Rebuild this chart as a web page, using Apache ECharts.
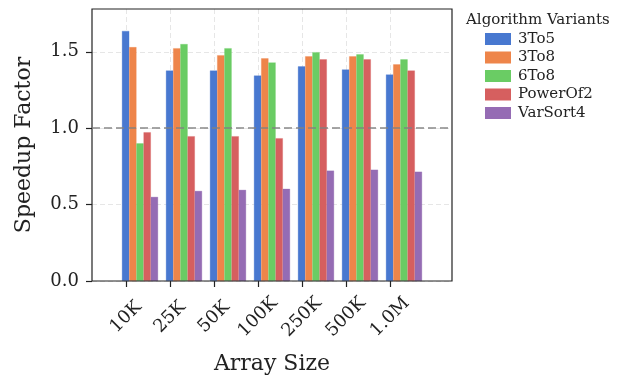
<!DOCTYPE html>
<html>
<head>
<meta charset="utf-8">
<script src="https://cdn.jsdelivr.net/npm/echarts@6/dist/echarts.min.js"></script>
<style>
  html, body { margin: 0; padding: 0; background: #fff; }
  #main { width: 626px; height: 376px; }
</style>
</head>
<body>
<div id="main"></div>
<script>
let sizes = ["10K", "25K", "50K", "100K", "250K", "500K", "1.0M"];
let variants = ["3To5", "3To8", "6To8", "PowerOf2", "VarSort4"];
let v3To5 = [1.636, 1.377, 1.377, 1.344, 1.404, 1.384, 1.351];
let v3To8 = [1.53, 1.523, 1.477, 1.457, 1.47, 1.47, 1.417];
let v6To8 = [0.9, 1.55, 1.523, 1.43, 1.497, 1.483, 1.45];
let vPowerOf2 = [0.973, 0.947, 0.947, 0.934, 1.45, 1.45, 1.377];
let vVarSort4 = [0.55, 0.589, 0.596, 0.603, 0.722, 0.728, 0.715];
let yTicks = [0, 0.5, 1.0, 1.5];
let colors = ["#4878d0", "#ee854a", "#6acc64", "#d65f5f", "#956cb4"];

let font = "DejaVu Serif";
let ink = "#222";
let chartDom = document.getElementById("main");
let myChart = echarts.init(chartDom);
let option;

let seriesValues = [v3To5, v3To8, v6To8, vPowerOf2, vVarSort4];
let yMax = 1.78;

let hiddenY = function (idx) {
    return { type: "value", gridIndex: idx, min: 0, max: yMax, show: false };
};

let barSeries = variants.map((name, i) => ({
    name: name,
    type: "bar",
    xAxisIndex: 2,
    yAxisIndex: 2,
    data: seriesValues[i],
    barWidth: 7.2,
    barGap: "0%",
    itemStyle: { color: colors[i], borderColor: colors[i], borderWidth: 0.3 },
    emphasis: { disabled: true },
    z: 3,
}));

option = {
    animation: false,
    textStyle: { fontFamily: font },
    grid: [
        // frame
        { left: 92, right: 174, top: 9, bottom: 95, outerBoundsMode: "none", show: true, borderColor: ink, borderWidth: 1.2, z: 5 },
        // tick labels
        { left: 126, width: 264, top: 9, bottom: 95, outerBoundsMode: "none" },
        // bars
        { left: 118, width: 308, top: 9, bottom: 95, outerBoundsMode: "none" },
    ],
    xAxis: [
        {
            type: "value",
            gridIndex: 0,
            min: 0,
            max: 1,
            name: "Array Size",
            nameLocation: "middle",
            nameGap: 72,
            nameTextStyle: { fontFamily: font, fontSize: 22, color: ink, verticalAlign: "top" },
            axisLine: { show: false },
            axisTick: { show: false },
            axisLabel: { show: false },
            splitLine: { show: false },
        },
        {
            type: "category",
            gridIndex: 1,
            data: sizes,
            boundaryGap: false,
            axisLine: { show: false },
            axisTick: { show: true, length: 6, lineStyle: { color: ink, width: 1.2 } },
            axisLabel: {
                rotate: 45,
                align: "center",
                verticalAlign: "middle",
                margin: 36,
                fontFamily: font,
                fontSize: 18,
                color: ink,
                interval: 0,
            },
            splitLine: { show: true, lineStyle: { color: "#e6e6e6", type: [5, 3], width: 1 } },
        },
        { type: "category", gridIndex: 2, data: sizes, show: false },
    ],
    yAxis: [
        {
            type: "value",
            gridIndex: 0,
            min: 0,
            max: yMax,
            interval: 0.5,
            name: "Speedup Factor",
            nameLocation: "middle",
            nameGap: 57,
            nameTextStyle: { fontFamily: font, fontSize: 22, color: ink },
            axisLine: { show: false },
            axisTick: { show: true, length: 6, customValues: yTicks, lineStyle: { color: ink, width: 1.2 } },
            axisLabel: {
                customValues: yTicks,
                formatter: (v) => v.toFixed(1),
                fontFamily: font,
                fontSize: 18,
                color: ink,
                margin: 13,
            },
            splitLine: { show: true, lineStyle: { color: "#e6e6e6", type: [5, 3], width: 1 } },
        },
        hiddenY(1),
        hiddenY(2),
    ],
    legend: {
        data: variants,
        orient: "vertical",
        left: 485,
        top: 31.5,
        padding: 0,
        icon: "rect",
        itemWidth: 24,
        itemHeight: 10,
        itemGap: 3.5,
        textStyle: { fontFamily: font, fontSize: 15, color: ink, lineHeight: 15, padding: [0, 0, 0, 3] },
    },
    graphic: [
        {
            type: "text",
            left: 466,
            top: 13,
            style: { text: "Algorithm Variants", font: "15px 'DejaVu Serif'", fill: ink },
        },
    ],
    series: [
        ...barSeries,
        {
            name: "ref",
            type: "line",
            xAxisIndex: 0,
            yAxisIndex: 0,
            data: [],
            markLine: {
                silent: true,
                symbol: "none",
                label: { show: false },
                lineStyle: { color: "rgba(128,128,128,0.7)", type: [8, 4], width: 2 },
                data: [{ yAxis: 1.0 }],
            },
            z: 10,
        },
    ],
};

myChart.setOption(option);
</script>
</body>
</html>
